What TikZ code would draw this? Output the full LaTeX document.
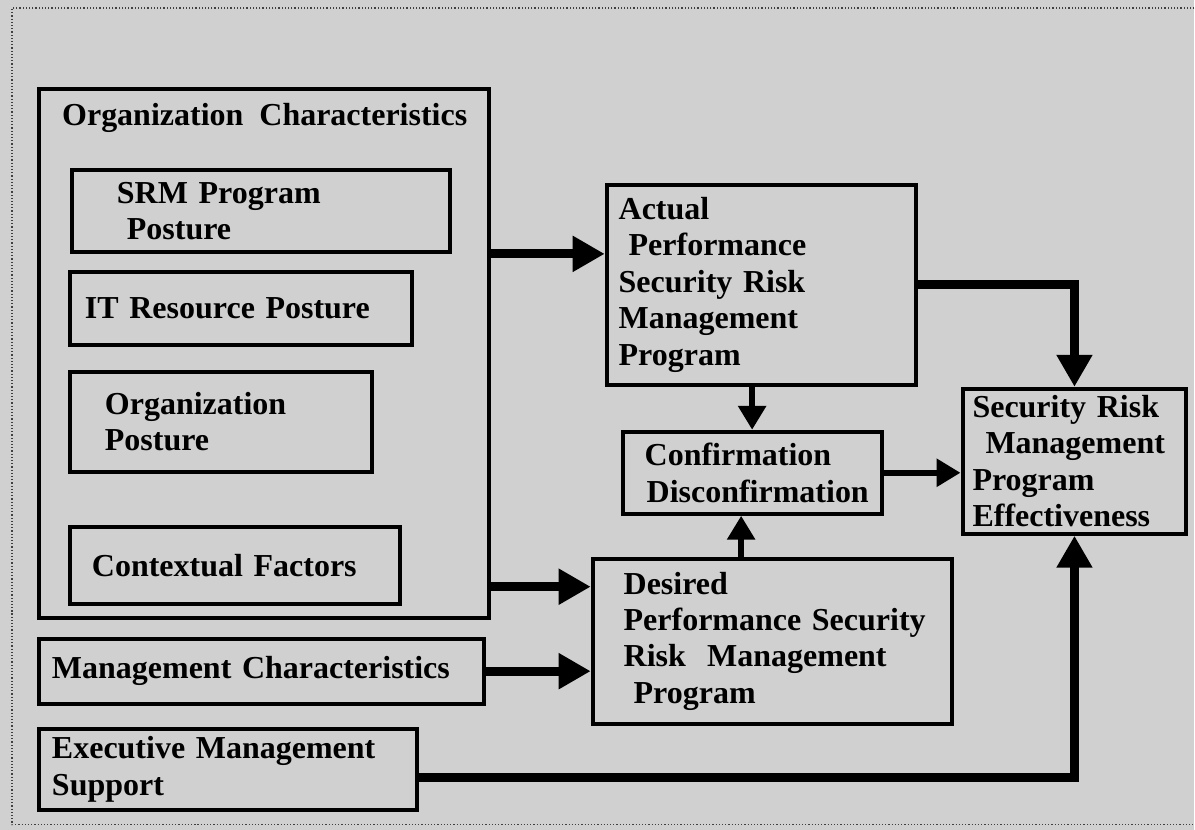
\documentclass[tikz,border=0pt]{standalone}
\usepackage{fontspec}
\setmainfont{Liberation Serif}
\usepackage{tikz}
\usetikzlibrary{arrows.meta, positioning, calc}
\definecolor{scanbg}{RGB}{208, 208, 208}
\newcommand{\ind}[1]{\hspace*{#1pt}}

\begin{document}
\begin{tikzpicture}[x=1pt, y=-1pt,
    every node/.style={font=\fontsize{32}{36.5}\selectfont\bfseries},
    box/.style={draw, line width=4pt, anchor=north west, inner xsep=0pt, inner ysep=0pt, align=left},
    bigarrow/.style={line width=9pt, -{Triangle[length=32pt, width=34pt]}},
    smallarrow/.style={line width=6pt, -{Triangle[length=24pt, width=27pt]}}]
    \fill[scanbg] (0,0) rectangle (1195,830);
    \draw[dotted, line width=1.2pt, black!75] (1195,8) -- (12,8) -- (12,825) -- (1195,825);

    \node[box, text width=450pt, minimum height=529pt] (orgbox) at (37,87) {};
    \node[anchor=base west, inner sep=0pt] (orgtitle) at ([xshift=25pt, yshift=-39pt]orgbox.north west) {Organization\ \ Characteristics};
    \node[box, text width=378pt, minimum height=82pt] (srm) at (70,168) {\ind{45}SRM Program\\\ind{55}Posture};
    \node[box, text width=342pt, minimum height=73pt] (itres) at (68,270) {\ind{15}IT Resource Posture};
    \node[box, text width=302pt, minimum height=100pt] (orgpos) at (68,370) {\ind{35}Organization\\\ind{35}Posture};
    \node[box, text width=330pt, minimum height=77pt] (context) at (68,525) {\ind{22}Contextual Factors};
    \node[box, text width=445pt, minimum height=65pt] (mgmt) at (37,637) {\ind{13}Management Characteristics};
    \node[box, text width=378pt, minimum height=81pt] (exec) at (37,727) {\ind{13}Executive Management\\\ind{13}Support};

    \node[box, text width=309pt, minimum height=200pt] (actual) at (605,183) {\ind{12}Actual\\\ind{22}Performance\\\ind{12}Security Risk\\\ind{12}Management\\\ind{12}Program};
    \node[box, text width=259pt, minimum height=82pt] (confirm) at (621,430) {\ind{22}Confirmation\\\ind{24}Disconfirmation};
    \node[box, text width=359pt, minimum height=165pt] (desired) at (591,557) {\ind{31}Desired\\\ind{31}Performance Security\\\ind{31}Risk\ \ Management\\\ind{41}Program};
    \node[box, text width=224pt, minimum height=145pt] (eff) at (961,387) {\ind{10}Security Risk\\\ind{23}Management\\\ind{10}Program\\\ind{10}Effectiveness};

    \coordinate (orgout) at ([yshift=33pt]orgbox.south east);
    \coordinate (execout) at ([yshift=-8pt]exec.east);
    \coordinate (confin) at ([xshift=-11pt]confirm.south);

    \draw[bigarrow] (orgbox.east |- srm.south) -- (actual.west |- srm.south);
    \draw[bigarrow] (actual.east) -| (eff.north);
    \draw[smallarrow] (actual.south -| confirm.north) -- (confirm.north);
    \draw[smallarrow] (confirm.east) -- (confirm.east -| eff.west);
    \draw[smallarrow] (confin |- desired.north) -- (confin);
    \draw[bigarrow] (orgout) -- (orgout -| desired.west);
    \draw[bigarrow] (mgmt.east) -- (mgmt.east -| desired.west);
    \draw[bigarrow] (execout) -| (eff.south);
\end{tikzpicture}
\end{document}
